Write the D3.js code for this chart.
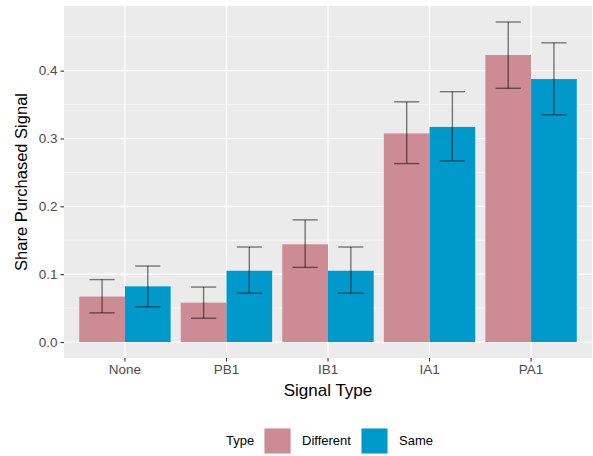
<!DOCTYPE html>
<html><head><meta charset="utf-8">
<script src="https://cdn.jsdelivr.net/npm/d3@7"></script>
<style>body{margin:0;background:#fff}svg{display:block}text{font-family:"Liberation Sans",Arial,sans-serif}</style>
</head><body>
<script>
const categories = ["None","PB1","IB1","IA1","PA1"];
const types = ["Different","Same"];
const diffValues = [0.067,0.058,0.144,0.3075,0.423];
const diffLow    = [0.043,0.035,0.110,0.263,0.374];
const diffHigh   = [0.092,0.081,0.180,0.354,0.4717];
const sameValues = [0.082,0.105,0.105,0.317,0.3876];
const sameLow    = [0.052,0.072,0.072,0.267,0.335];
const sameHigh   = [0.112,0.140,0.140,0.369,0.441];
const yTicks = [0,0.1,0.2,0.3,0.4];
const colors = {Different:"#CD8B94", Same:"#0099CC"};

const W=593,H=456;
const m={l:64,r:1,t:6,b:98};
const svg=d3.select("body").append("svg").attr("width",W).attr("height",H);
const pw=W-m.l-m.r, ph=H-m.t-m.b;
const g=svg.append("g").attr("transform",`translate(${m.l},${m.t})`);

const ymin=0,ymax=0.4717,span=ymax-ymin;
const y=d3.scaleLinear().domain([ymin-0.05*span,ymax+0.05*span]).range([ph,0]);
const unit=pw/5.2;
const x=d3.scaleBand().domain(categories).range([0.1*unit,pw-0.1*unit]).paddingInner(0).paddingOuter(0);
const xs=d3.scaleBand().domain(types).range([0,x.bandwidth()*0.9]);

g.append("rect").attr("width",pw).attr("height",ph).attr("fill","#EBEBEB");
const minor=[0.05,0.15,0.25,0.35,0.45];
g.selectAll(".mn").data(minor).enter().append("line").attr("x1",0).attr("x2",pw)
 .attr("y1",d=>y(d)).attr("y2",d=>y(d)).attr("stroke","#fff").attr("stroke-width",0.6);
g.selectAll(".mj").data(yTicks).enter().append("line").attr("x1",0).attr("x2",pw)
 .attr("y1",d=>y(d)).attr("y2",d=>y(d)).attr("stroke","#fff").attr("stroke-width",1.2);
g.selectAll(".vx").data(categories).enter().append("line")
 .attr("x1",d=>x(d)+x.bandwidth()/2).attr("x2",d=>x(d)+x.bandwidth()/2)
 .attr("y1",0).attr("y2",ph).attr("stroke","#fff").attr("stroke-width",1.2);

const data=[];
categories.forEach((c,i)=>{
  data.push({c,t:"Different",v:diffValues[i],lo:diffLow[i],hi:diffHigh[i]});
  data.push({c,t:"Same",v:sameValues[i],lo:sameLow[i],hi:sameHigh[i]});
});
const bx=d=>x(d.c)+x.bandwidth()*0.05+xs(d.t);
g.selectAll(".bar").data(data).enter().append("rect")
 .attr("x",bx).attr("width",xs.bandwidth())
 .attr("y",d=>y(d.v)).attr("height",d=>y(0)-y(d.v)).attr("fill",d=>colors[d.t]);

const cap=xs.bandwidth()*0.55;
const eb=g.selectAll(".eb").data(data).enter().append("g")
 .attr("stroke","#000").attr("stroke-opacity",0.5).attr("stroke-width",1.4).attr("fill","none");
eb.append("line").attr("x1",d=>bx(d)+xs.bandwidth()/2).attr("x2",d=>bx(d)+xs.bandwidth()/2)
 .attr("y1",d=>y(d.lo)).attr("y2",d=>y(d.hi));
eb.append("line").attr("x1",d=>bx(d)+xs.bandwidth()/2-cap/2).attr("x2",d=>bx(d)+xs.bandwidth()/2+cap/2)
 .attr("y1",d=>y(d.hi)).attr("y2",d=>y(d.hi));
eb.append("line").attr("x1",d=>bx(d)+xs.bandwidth()/2-cap/2).attr("x2",d=>bx(d)+xs.bandwidth()/2+cap/2)
 .attr("y1",d=>y(d.lo)).attr("y2",d=>y(d.lo));

const ya=d3.axisLeft(y).tickValues(yTicks).tickFormat(d3.format(".1f")).tickSize(3.5).tickPadding(3);
const yg=g.append("g").call(ya);
yg.select(".domain").remove();
yg.selectAll("line").attr("stroke","#333").attr("stroke-width",1.1);
yg.selectAll("text").attr("fill","#4D4D4D").style("font-size","13.5px");
const xa=d3.axisBottom(x).tickSize(3.5).tickPadding(3);
const xg=g.append("g").attr("transform",`translate(0,${ph})`).call(xa);
xg.select(".domain").remove();
xg.selectAll("line").attr("stroke","#333").attr("stroke-width",1.1);
xg.selectAll("text").attr("fill","#4D4D4D").style("font-size","13.5px");

svg.append("text").attr("x",m.l+pw/2).attr("y",396).attr("text-anchor","middle")
 .style("font-size","17px").attr("fill","#000").text("Signal Type");
svg.append("text").attr("transform",`translate(27,${m.t+ph/2}) rotate(-90)`).attr("text-anchor","middle")
 .style("font-size","16.5px").attr("fill","#000").text("Share Purchased Signal");

const lg=svg.append("g");
lg.append("text").attr("x",226).attr("y",445).style("font-size","13px").text("Type");
const keys=[{t:"Different",x:264,tx:302},{t:"Same",x:361,tx:399}];
keys.forEach(k=>{
  lg.append("rect").attr("x",k.x).attr("y",428).attr("width",27).attr("height",26).attr("fill","#F2F2F2");
  lg.append("rect").attr("x",k.x+0.5).attr("y",428.5).attr("width",26).attr("height",25).attr("fill",colors[k.t]);
  lg.append("text").attr("x",k.tx).attr("y",445).style("font-size","13px").text(k.t);
});
</script>
</body></html>
